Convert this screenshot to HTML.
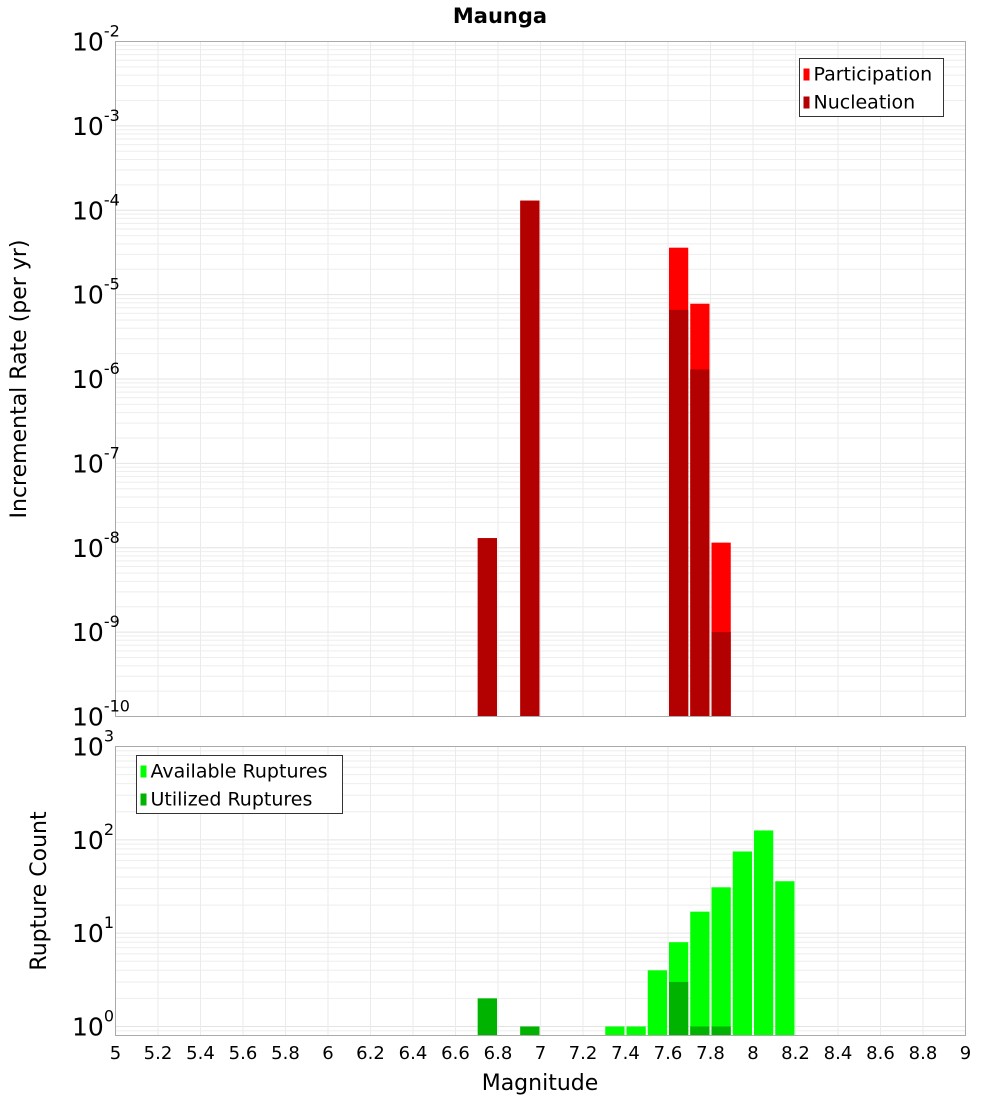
<!DOCTYPE html>
<html><head><meta charset="utf-8"><style>
body{margin:0;background:#fff}
svg text{font-family:"DejaVu Sans","Liberation Sans",sans-serif}
</style></head><body>
<svg id="c" width="1000" height="1100" xmlns="http://www.w3.org/2000/svg"></svg>
<script>
const mags=[6.7,6.9,7.6,7.7,7.8];
const participation=[1.3e-8,1.3e-4,3.6e-5,7.8e-6,1.15e-8];
const nucleation=[1.3e-8,1.3e-4,6.6e-6,1.3e-6,1e-9];
const countMags=[6.7,6.9,7.3,7.4,7.5,7.6,7.7,7.8,7.9,8.0,8.1];
const available=[2,1,1,1,4,8,17,31,75,126,36];
const utilized=[2,1,0,0,0,3,1,1,0,0,0];
const xTicks=[5,5.2,5.4,5.6,5.8,6,6.2,6.4,6.6,6.8,7,7.2,7.4,7.6,7.8,8,8.2,8.4,8.6,8.8,9];
const topExp=[-2,-3,-4,-5,-6,-7,-8,-9,-10];
const botExp=[3,2,1,0];

const svg=document.getElementById('c');const NS='http://www.w3.org/2000/svg';
function el(t,a,p){const e=document.createElementNS(NS,t);for(const k in a)e.setAttribute(k,a[k]);(p||svg).appendChild(e);return e;}
const L=115.5,R=965.5;
const X=m=>L+(m-5)*(R-L)/4;
const T0=41.5,T1=716.5, B0=746.5,B1=1035.5;
const yT=v=>T0+(-2-Math.log10(v))*(T1-T0)/8;
const yB=v=>B0+(3-Math.log10(v))*93.33;

function grid(top,bot,yf,eMin,eMax,name){
  const g=el('g',{});  
  for(let e=eMin;e<eMax;e++)for(let k=1;k<10;k++){const y=yf(k*Math.pow(10,e));if(y>=top&&y<=bot)el('line',{x1:L,x2:R,y1:y,y2:y,stroke:k==1?'#e4e4e4':'#eeeeee','stroke-width':1},g);}
  xTicks.forEach(t=>{const x=X(t);el('line',{x1:x,x2:x,y1:top,y2:bot,stroke:'#ebebeb','stroke-width':1},g);});
}
grid(T0,T1,yT,-10,-1,'top-grid');
grid(B0,B1,yB,-1,3,'bottom-grid');

const t=el('text',{x:500,y:23,'text-anchor':'middle','font-size':21,'font-weight':'bold'});t.textContent='Maunga';


function bars(ms,vs,yf,bot,col,name){
  ms.forEach((m,i)=>{if(vs[i]<=0)return;const x=X(m)+1,w=X(m+0.1)-X(m)-2;const y=yf(vs[i]);
    const r=el('rect',{x:x,y:y,width:w,height:bot-y,fill:col});
    });
}
bars(mags,participation,yT,T1,'#ff0000','participation-bar');
bars(mags,nucleation,yT,T1,'#b30000','nucleation-bar');
bars(countMags,available,yB,B1,'#00ff00','available-bar');
bars(countMags,utilized,yB,B1,'#00b300','utilized-bar');

[[T0,T1,'top-plot-frame'],[B0,B1,'bottom-plot-frame']].forEach(a=>{const r=el('rect',{x:L,y:a[0],width:R-L,height:a[1]-a[0],fill:'none',stroke:'#aaaaaa'});});

function ylabel(y,e,name){const g=el('text',{x:102,y:y+9,'text-anchor':'end','font-size':25});
  
  const a=el('tspan',{},g);a.textContent='10';const b=el('tspan',{dy:-14,'font-size':16},g);b.textContent=String(e);
  g.setAttribute('x',100);g.removeAttribute('text-anchor');g.setAttribute('x',72);}
topExp.forEach(e=>ylabel(yT(Math.pow(10,e)),e,'top-y-tick-label'));
botExp.forEach(e=>ylabel(yB(Math.pow(10,e)),e,'bottom-y-tick-label'));

xTicks.forEach(v=>{const tx=el('text',{x:X(v),y:1059,'text-anchor':'middle','font-size':18});tx.textContent=String(v);
  });
const xt=el('text',{x:540,y:1090,'text-anchor':'middle','font-size':22});xt.textContent='Magnitude';

const y1=el('text',{x:0,y:0,'text-anchor':'middle','font-size':22,transform:'translate(26,379) rotate(-90)'});y1.textContent='Incremental Rate (per yr)';

const y2=el('text',{x:0,y:0,'text-anchor':'middle','font-size':22,transform:'translate(46,891) rotate(-90)'});y2.textContent='Rupture Count';


function legend(x,y,w,items,name){const g=el('g',{});
  el('rect',{x:x,y:y,width:w,height:58,fill:'#fff',stroke:'#333'},g);
  items.forEach((it,i)=>{const yy=y+15+i*28;el('rect',{x:x+4,y:yy-5,width:6,height:12,fill:it[1]},g);
    const tx=el('text',{x:x+14,y:yy+7,'font-size':19},g);tx.textContent=it[0];});}
legend(799.5,58.5,144,[['Participation','#ff0000'],['Nucleation','#b30000']],'top-legend');
legend(136.5,755.5,206,[['Available Ruptures','#00ff00'],['Utilized Ruptures','#00b300']],'bottom-legend');
</script>
</body></html>
